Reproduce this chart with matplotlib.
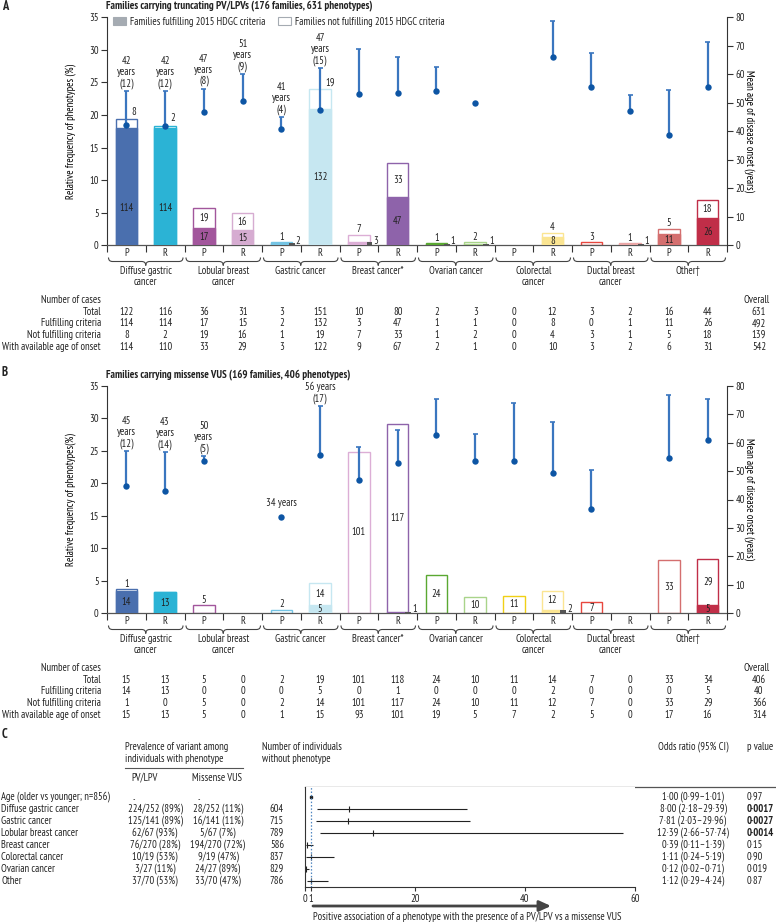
import numpy as np
import matplotlib
matplotlib.use("Agg")
import matplotlib.pyplot as plt
from matplotlib import font_manager
from matplotlib.patches import Rectangle, Patch, PathPatch
from matplotlib.path import Path
from matplotlib.transforms import blended_transform_factory

# ---------------- data ----------------
categories = ['Diffuse gastric\ncancer', 'Lobular breast\ncancer', 'Gastric cancer', 'Breast cancer*',
              'Ovarian cancer', 'Colorectal\ncancer', 'Ductal breast\ncancer', 'Other\u2020']
roles = ['P', 'R'] * 8
slot_colors = ['#4a6fae', '#2bb3d5', '#a2569c', '#d6acd1', '#74c4e4', '#c6e7f1', '#dcaed6', '#8e63aa',
               '#5aa832', '#a9d48a', '#f0d016', '#fbe592', '#e8473e', '#eaa6a6', '#d46f6f', '#c02e48']
row_labels = ['Number of cases', 'Total', 'Fulfilling criteria', 'Not fulfilling criteria',
              'With available age of onset']

# Panel A: truncating PV/LPV
a_total = [122, 116, 36, 31, 3, 151, 10, 80, 2, 3, 0, 12, 3, 2, 16, 44]
a_ful = [114, 114, 17, 15, 2, 132, 3, 47, 1, 1, 0, 8, 0, 1, 11, 26]
a_not = [8, 2, 19, 16, 1, 19, 7, 33, 1, 2, 0, 4, 3, 1, 5, 18]
a_age_n = [114, 110, 33, 29, 3, 122, 9, 67, 2, 1, 0, 10, 3, 2, 6, 31]
a_overall = [631, 492, 139, 542]
a_age_mean = [42.1, 41.9, 46.8, 50.8, 40.7, 47.3, 53.0, 53.3, 54.0, 50.1, np.nan, 66.1, 55.7, 47.0, 38.7, 55.4]
a_age_upper = [54.0, 54.0, 55.0, 60.0, 45.0, 62.1, 68.8, 66.0, 62.5, np.nan, np.nan, 78.8, 67.3, 52.6, 54.4, 71.3]
a_lab_mean = [42, 42, 47, 51, 41, 47]
a_lab_sd = [12, 12, 8, 9, 4, 15]

# Panel B: missense VUS
b_total = [15, 13, 5, 0, 2, 19, 101, 118, 24, 10, 11, 14, 7, 0, 33, 34]
b_ful = [14, 13, 0, 0, 0, 5, 0, 1, 0, 0, 0, 2, 0, 0, 0, 5]
b_not = [1, 0, 5, 0, 2, 14, 101, 117, 24, 10, 11, 12, 7, 0, 33, 29]
b_age_n = [15, 13, 5, 0, 1, 15, 93, 101, 19, 5, 7, 2, 5, 0, 17, 16]
b_overall = [406, 40, 366, 314]
b_age_mean = [44.8, 42.9, 53.4, np.nan, 33.8, 55.5, 46.8, 52.8, 62.8, 53.7, 53.5, 49.4, 36.8, np.nan, 54.6, 61.0]
b_age_upper = [57.0, 56.8, 55.3, np.nan, np.nan, 72.8, 58.3, 64.3, 75.2, 63.1, 73.8, 67.1, 50.5, np.nan, 76.9, 75.5]
b_lab_mean = [45, 43, 50, None, 34, 56]
b_lab_sd = [12, 14, 5, None, None, 17]

# Panel C: forest plot
c_rows = ['Age (older vs younger; n=856)', 'Diffuse gastric cancer', 'Gastric cancer', 'Lobular breast cancer',
          'Breast cancer', 'Colorectal cancer', 'Ovarian cancer', 'Other']
c_pv = ['..', '224/252 (89%)', '125/141 (89%)', '62/67 (93%)', '76/270 (28%)', '10/19 (53%)', '3/27 (11%)', '37/70 (53%)']
c_vus = ['..', '28/252 (11%)', '16/141 (11%)', '5/67 (7%)', '194/270 (72%)', '9/19 (47%)', '24/27 (89%)', '33/70 (47%)']
c_without = ['', '604', '715', '789', '586', '837', '829', '786']
c_or = [1.00, 8.00, 7.81, 12.39, 0.39, 1.11, 0.12, 1.12]
c_lo = [0.99, 2.18, 2.03, 2.66, 0.11, 0.24, 0.02, 0.29]
c_hi = [1.01, 29.39, 29.96, 57.74, 1.39, 5.19, 0.71, 4.24]
c_p = ['0.97', '0.0017', '0.0027', '0.0014', '0.15', '0.90', '0.019', '0.87']

# ---------------- style ----------------
W, H, DPI = 776, 923, 100
plt.rcParams['font.family'] = ['PT Sans Narrow', 'DejaVu Sans']
FS = 7.6
TXT = '#222222'
AX = '#333333'
plt.rcParams['text.color'] = TXT
plt.rcParams['axes.edgecolor'] = AX
plt.rcParams['xtick.color'] = AX
plt.rcParams['ytick.color'] = AX
plt.rcParams['xtick.labelcolor'] = TXT
plt.rcParams['ytick.labelcolor'] = TXT

fig = plt.figure(figsize=(W / DPI, H / DPI), dpi=DPI)
canvas = fig.add_axes([0, 0, 1, 1])
canvas.set_xlim(0, W)
canvas.set_ylim(H, 0)
canvas.axis('off')


def rect(l, t, r, b):
    return [l / W, 1 - b / H, (r - l) / W, (b - t) / H]


def dot(s):
    return s.replace('.', '\u00b7')


BW = 0.55
WHISK = '#3a76bf'
DOTC = '#0d55a4'


def brace(x0, x1, yt, yb, trans):
    xc = (x0 + x1) / 2
    ym = (yt + yb) / 2
    r = 4.0
    verts = [(x0, yt), (x0, ym), (x0 + r, ym), (xc - r, ym), (xc, ym), (xc, yb),
             (xc, ym), (xc + r, ym), (x1 - r, ym), (x1, ym), (x1, yt)]
    codes = [Path.MOVETO, Path.CURVE3, Path.CURVE3, Path.LINETO, Path.CURVE3, Path.CURVE3,
             Path.CURVE3, Path.CURVE3, Path.LINETO, Path.CURVE3, Path.CURVE3]
    canvas.add_patch(PathPatch(Path(verts, codes), fill=False, edgecolor='#444', lw=0.8, transform=trans))


def panel(top_px, bottom_px, total, ful, notf, age_n, overall, age_mean, age_upper,
          lab_mean, lab_sd, lab_inline, right_mode, fill_label_y, title, ylabel, letter,
          legend, table_y):
    N = overall[0]
    ax = fig.add_axes(rect(107, top_px, 727, bottom_px))
    ax.set_xlim(0, 16)
    ax.set_ylim(0, 35)
    x = np.arange(16) + 0.5
    tot_p = np.array(total) / N * 100
    ful_p = np.array(ful) / N * 100
    not_p = np.array(notf) / N * 100
    for i in range(16):
        if total[i] == 0:
            continue
        c = slot_colors[i]
        ax.bar(x[i], tot_p[i], width=BW, facecolor='white', edgecolor=c, linewidth=1.0, zorder=2)
        if ful[i] > 0:
            ax.bar(x[i], ful_p[i], width=BW, facecolor=c, edgecolor=c, linewidth=1.0, zorder=3)
            if ful_p[i] >= 1.0:
                yy = fill_label_y.get(i, ful_p[i] / 2)
                ax.text(x[i], yy, str(ful[i]), ha='center', va='center', fontsize=FS, zorder=6)
            else:
                ax.add_patch(Rectangle((x[i] + 0.2, 0), 0.15, max(ful_p[i], 0.2),
                                       facecolor='#555555', edgecolor='none', zorder=4))
                ax.text(x[i] + 0.37, 0.6, str(ful[i]), ha='left', va='center', fontsize=FS, zorder=6)
        if notf[i] > 0:
            mode = right_mode.get(i, 'in' if not_p[i] >= 1.5 else 'above')
            if mode == 'in':
                ax.text(x[i], ful_p[i] + not_p[i] / 2, str(notf[i]), ha='center', va='center',
                        fontsize=FS, zorder=6)
            elif mode == 'above':
                ax.text(x[i], tot_p[i] + 0.1, str(notf[i]), ha='center', va='bottom',
                        fontsize=FS, zorder=6)
            else:
                ax.text(x[i] + 0.13, tot_p[i] + 1.1, str(notf[i]), ha='left', va='center',
                        fontsize=FS, zorder=6)
    for s in ['top', 'right']:
        ax.spines[s].set_visible(False)
    ax.spines['left'].set_linewidth(0.8)
    ax.spines['bottom'].set_linewidth(0.9)
    ax.spines['bottom'].set_color('#555555')
    ax.set_yticks(np.arange(0, 36, 5))
    ax.tick_params(axis='y', length=4, width=0.8, labelsize=FS, pad=2)
    ax.set_xticks(np.arange(0, 17))
    ax.set_xticklabels([])
    ax.tick_params(axis='x', length=5, width=0.8, direction='out')
    ax.set_ylabel(ylabel, fontsize=FS)
    ax.yaxis.set_label_coords(-0.05, 0.5)

    ax2 = ax.twinx()
    ax2.set_ylim(0, 80)
    ax2.set_xlim(0, 16)
    for s in ['top', 'left', 'bottom']:
        ax2.spines[s].set_visible(False)
    ax2.spines['right'].set_linewidth(0.8)
    ax2.set_yticks(np.arange(0, 81, 10))
    ax2.tick_params(axis='y', length=4, width=0.8, labelsize=FS, pad=2)
    ax2.set_ylabel('Mean age of disease onset (years)', fontsize=FS, rotation=270)
    ax2.yaxis.set_label_coords(1.045, 0.5)
    m = np.array(age_mean)
    u = np.array(age_upper)
    has_u = ~np.isnan(u)
    ax2.vlines(x[has_u], m[has_u], u[has_u], color=WHISK, lw=1.6, zorder=3)
    ax2.hlines(u[has_u], x[has_u] - 0.065, x[has_u] + 0.065, color=WHISK, lw=1.2, zorder=3)
    has_m = ~np.isnan(m)
    ax2.plot(x[has_m], m[has_m], 'o', ms=4.6, color=DOTC, zorder=4, markeredgewidth=0)
    for i, (lm, ls) in enumerate(zip(lab_mean, lab_sd)):
        if lm is None:
            continue
        if i in lab_inline:
            txt = f'{lm} years' + (f'\n({ls})' if ls is not None else '')
        else:
            txt = f'{lm}\nyears\n({ls})'
        anchor = u[i] if not np.isnan(u[i]) else m[i] + 2.5
        ax2.annotate(txt, (x[i], anchor), xytext=(0, 1.5), textcoords='offset points',
                     ha='center', va='bottom', fontsize=FS, linespacing=1.12, zorder=6)

    if legend:
        h = [Patch(facecolor='#a5abb2', edgecolor='#a5abb2', lw=0.8),
             Patch(facecolor='white', edgecolor='#a5abb2', lw=0.8)]
        ax.legend(h, ['Families fulfilling 2015 HDGC criteria', 'Families not fulfilling 2015 HDGC criteria'],
                  ncol=2, loc='upper left', bbox_to_anchor=(0.008, 1.008), frameon=False, fontsize=FS,
                  handlelength=1.2, handleheight=0.7, handletextpad=0.4, columnspacing=1.2,
                  borderaxespad=0, borderpad=0.1)

    # text below the axes
    bt = blended_transform_factory(ax.transData, canvas.transData)
    off = bottom_px - 245.3
    for i in range(16):
        canvas.text(x[i], 253.3 + off, roles[i], transform=bt, ha='center', va='center', fontsize=FS)
    for k in range(8):
        x0p = ax.transData.transform((2 * k, 0))[0]
        x1p = ax.transData.transform((2 * k + 2, 0))[0]
        brace(x0p + 1.5, x1p - 1.5, 257.5 + off, 265.5 + off, canvas.transData)
        canvas.text(2 * k + 1, 266.5 + off, categories[k], transform=bt, ha='center', va='top',
                    fontsize=FS, linespacing=1.1)
    rows = [None, total, ful, notf, age_n]
    for r, (lab, vals) in enumerate(zip(row_labels, rows)):
        yy = table_y[r]
        canvas.text(101, yy, lab, ha='right', va='center', fontsize=FS)
        if vals is None:
            canvas.text(757, yy, 'Overall', ha='center', va='center', fontsize=FS)
            continue
        for i in range(16):
            canvas.text(x[i], yy, str(vals[i]), transform=bt, ha='center', va='center', fontsize=FS)
        canvas.text(759, yy, str(overall[r - 1]), ha='center', va='center', fontsize=FS)
    canvas.text(106, top_px - 11.6, title, ha='left', va='center', fontsize=FS + 0.2, fontweight='bold')
    canvas.text(2, max(top_px - 13.3, 7.0), letter, ha='left', va='center', fontsize=9, fontweight='bold')
    return ax


panel(17.3, 245.3, a_total, a_ful, a_not, a_age_n, a_overall, a_age_mean, a_age_upper,
      a_lab_mean, a_lab_sd, set(), {0: 'right', 1: 'right', 5: 'right'}, {0: 5.7, 1: 5.7},
      'Families carrying truncating PV/LPVs (176 families, 631 phenotypes)',
      'Relative frequency of phenotypes (%)', 'A', True,
      [300.0, 311.7, 323.3, 335.0, 346.7])

panel(385.7, 613.3, b_total, b_ful, b_not, b_age_n, b_overall, b_age_mean, b_age_upper,
      b_lab_mean, b_lab_sd, {4, 5}, {}, {},
      'Families carrying missense VUS (169 families, 406 phenotypes)',
      'Relative frequency of phenotypes(%)', 'B', False,
      [668.0, 679.7, 691.3, 703.0, 714.7])

# ---------------- panel C ----------------
canvas.text(2, 734, 'C', ha='left', va='center', fontsize=9, fontweight='bold')
canvas.text(125, 747, 'Prevalence of variant among', ha='left', va='center', fontsize=FS)
canvas.text(125, 759, 'individuals with phenotype', ha='left', va='center', fontsize=FS)
canvas.plot([125, 243], [767.5, 767.5], color='#555555', lw=0.8)
canvas.text(131, 778, 'PV/LPV', ha='left', va='center', fontsize=FS)
canvas.text(192, 778, 'Missense VUS', ha='left', va='center', fontsize=FS)
canvas.text(262, 747, 'Number of individuals', ha='left', va='center', fontsize=FS)
canvas.text(262, 759, 'without phenotype', ha='left', va='center', fontsize=FS)
canvas.text(693, 747, 'Odds ratio (95% CI)', ha='center', va='center', fontsize=FS)
canvas.text(747, 747, 'p value', ha='left', va='center', fontsize=FS)
canvas.plot([305, 776], [787, 787], color='#555555', lw=0.9)

axf = fig.add_axes(rect(305, 787, 635, 887))
axf.set_xlim(0, 60)
axf.set_ylim(7.5, -0.8333)
yi = np.arange(len(c_rows))
axf.hlines(yi, c_lo, c_hi, color='#222222', lw=0.8)
axf.plot(c_or[1:], yi[1:], marker='|', ms=4, mew=0.8, color='#222222', ls='none')
axf.plot(c_or[:1], yi[:1], marker='s', ms=2, color='#222222', ls='none')
axf.axvline(1, color='#4f86c0', ls=(0, (1.2, 1.5)), lw=0.9)
for s in ['top', 'right']:
    axf.spines[s].set_visible(False)
axf.spines['left'].set_linewidth(0.8)
axf.spines['bottom'].set_linewidth(0.8)
axf.set_yticks([])
axf.set_xticks([0, 1, 20, 40, 60])
axf.set_xticklabels(['0', '1', '20', '40', '60'])
axf.tick_params(axis='x', length=3, width=0.8, labelsize=FS, pad=2)

rt = blended_transform_factory(canvas.transData, axf.transData)
for i in range(len(c_rows)):
    canvas.text(1, i, c_rows[i], transform=rt, ha='left', va='center', fontsize=FS)
    if c_pv[i] == '..':
        canvas.text(133, i, '..', transform=rt, ha='left', va='center', fontsize=FS)
        canvas.text(198, i, '..', transform=rt, ha='left', va='center', fontsize=FS)
    else:
        canvas.text(155, i, c_pv[i], transform=rt, ha='center', va='center', fontsize=FS)
        canvas.text(218, i, c_vus[i], transform=rt, ha='center', va='center', fontsize=FS)
    canvas.text(277, i, c_without[i], transform=rt, ha='center', va='center', fontsize=FS)
    ortxt = dot(f'{c_or[i]:.2f} ({c_lo[i]:.2f}\u2013{c_hi[i]:.2f})')
    canvas.text(693, i, ortxt, transform=rt, ha='center', va='center', fontsize=FS)
    pv = float(c_p[i])
    canvas.text(747, i, dot(c_p[i]), transform=rt, ha='left', va='center', fontsize=FS,
                fontweight='bold' if pv < 0.01 else 'normal')

canvas.annotate('', xy=(551, 906), xytext=(313, 906),
                arrowprops=dict(arrowstyle='-|>,head_length=0.7,head_width=0.32', color='#444444',
                                lw=2.0, shrinkA=0, shrinkB=0))
canvas.text(313, 917, 'Positive association of a phenotype with the presence of a PV/LPV vs a missense VUS',
            ha='left', va='center', fontsize=FS)

fig.savefig('out.png', dpi=DPI)
